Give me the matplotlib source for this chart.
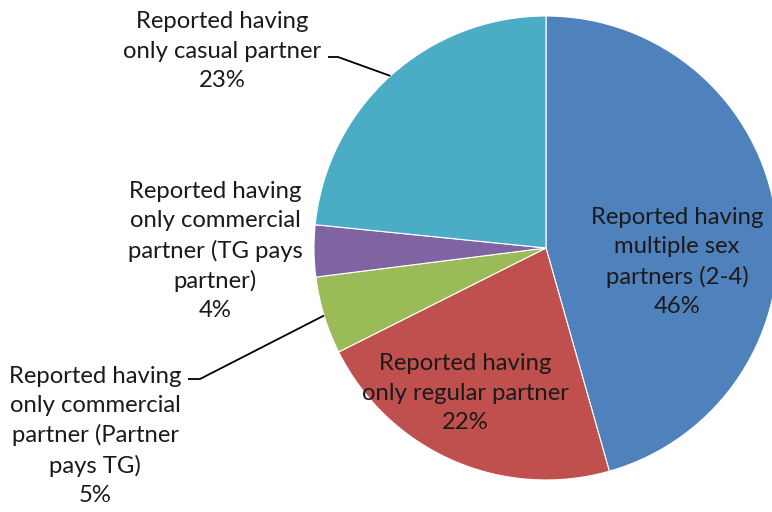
import numpy as np
import matplotlib
matplotlib.use("Agg")
import matplotlib.pyplot as plt

# slice data, clockwise from 12 o'clock
categories = [
    "Reported having\nmultiple sex\npartners (2-4)",
    "Reported having\nonly regular partner",
    "Reported having\nonly commercial\npartner (Partner\npays TG)",
    "Reported having\nonly commercial\npartner (TG pays\npartner)",
    "Reported having\nonly casual partner",
]
values = [45.6, 22.0, 5.4, 3.6, 23.4]
pct_labels = ["46%", "22%", "5%", "4%", "23%"]
colors = ["#4F81BD", "#C0504D", "#9BBB59", "#8064A2", "#4BACC6"]

W, H = 772, 512
fig = plt.figure(figsize=(W / 100, H / 100), dpi=100)
ax = fig.add_axes([0, 0, 1, 1])

cx, cy, r = 546, H - 248, 232
wedges, _ = ax.pie(values, colors=colors, startangle=90, counterclock=False,
                   center=(cx, cy), radius=r, frame=True,
                   wedgeprops=dict(edgecolor="white", linewidth=0.8))
ax.set_xlim(0, W)
ax.set_ylim(0, H)
ax.axis("off")

font = dict(family="Lato", fontsize=17.2, color="#1a1a1a", ha="center",
            va="center", multialignment="center", linespacing=1.48)

# label centres in pixel coords (x, y from top)
label_pos = [(677, 262), (465, 393), (95, 436), (215, 251), (222, 51)]
for cat, pct, (lx, ly) in zip(categories, pct_labels, label_pos):
    ax.text(lx, H - ly, f"{cat}\n{pct}", **font)


def edge_point(w):
    mid = np.deg2rad((w.theta1 + w.theta2) / 2)
    return cx + r * np.cos(mid), cy + r * np.sin(mid)


# leader lines: casual partner and partner-pays-TG
ex, ey = edge_point(wedges[4])
ax.plot([328, 338, ex], [H - 57, H - 57, ey], color="black", lw=1.3,
        solid_capstyle="butt")
ex, ey = edge_point(wedges[2])
ax.plot([188, 200, ex], [H - 379, H - 379, ey], color="black", lw=1.3,
        solid_capstyle="butt")

fig.savefig("out.png", dpi=100)
